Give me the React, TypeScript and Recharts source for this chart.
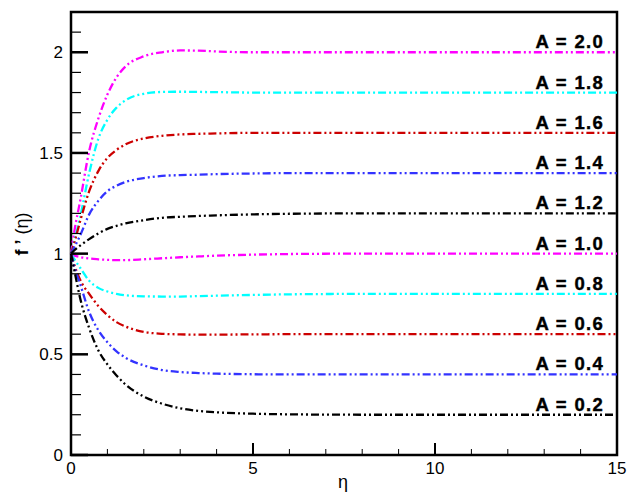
import React from 'react';
import { LineChart, Line, XAxis, YAxis, ReferenceArea, LabelList } from 'recharts';

const eta = [0, 0.1, 0.25, 0.5, 0.75, 1, 1.25, 1.5, 2, 2.5, 3, 3.5, 4, 5, 6, 8, 10, 12, 15];

const A20 = [1, 1.12, 1.26, 1.51, 1.67, 1.79, 1.875, 1.93, 1.98, 2.0, 2.009, 2.008, 2.004, 2.0, 2.0, 2.0, 2.0, 2.0, 2.0];
const A18 = [1, 1.07, 1.18, 1.4, 1.57, 1.665, 1.725, 1.762, 1.794, 1.803, 1.804, 1.803, 1.802, 1.8, 1.8, 1.8, 1.8, 1.8, 1.8];
const A16 = [1, 1.06, 1.16, 1.31, 1.41, 1.475, 1.515, 1.543, 1.572, 1.585, 1.592, 1.595, 1.597, 1.6, 1.6, 1.6, 1.6, 1.6, 1.6];
const A14 = [1, 1.035, 1.09, 1.195, 1.262, 1.31, 1.337, 1.356, 1.375, 1.386, 1.39, 1.392, 1.395, 1.398, 1.4, 1.4, 1.4, 1.4, 1.4];
const A12 = [1, 1.018, 1.04, 1.072, 1.1, 1.123, 1.138, 1.15, 1.166, 1.178, 1.183, 1.187, 1.19, 1.195, 1.198, 1.2, 1.2, 1.2, 1.2];
const A10 = [1, 0.99, 0.983, 0.976, 0.972, 0.969, 0.968, 0.968, 0.972, 0.977, 0.982, 0.986, 0.99, 0.995, 0.998, 1.0, 1.0, 1.0, 1.0];
const A08 = [1, 0.97, 0.93, 0.865, 0.83, 0.812, 0.8, 0.793, 0.788, 0.787, 0.787, 0.789, 0.791, 0.795, 0.798, 0.8, 0.8, 0.8, 0.8];
const A06 = [1, 0.94, 0.87, 0.8, 0.74, 0.695, 0.66, 0.638, 0.611, 0.602, 0.599, 0.598, 0.598, 0.599, 0.6, 0.6, 0.6, 0.6, 0.6];
const A04 = [1, 0.93, 0.85, 0.71, 0.62, 0.56, 0.515, 0.483, 0.445, 0.422, 0.412, 0.407, 0.404, 0.401, 0.4, 0.4, 0.4, 0.4, 0.4];
const A02 = [1, 0.91, 0.78, 0.63, 0.52, 0.45, 0.395, 0.35, 0.29, 0.255, 0.232, 0.219, 0.212, 0.205, 0.202, 0.2, 0.2, 0.2, 0.2];

const seriesNames = ['A = 2.0', 'A = 1.8', 'A = 1.6', 'A = 1.4', 'A = 1.2', 'A = 1.0', 'A = 0.8', 'A = 0.6', 'A = 0.4', 'A = 0.2'];
const seriesValues = [A20, A18, A16, A14, A12, A10, A08, A06, A04, A02];
const seriesColors = ['#ff00ff', '#00ffff', '#cc0000', '#3333ff', '#000000', '#ff00ff', '#00ffff', '#cc0000', '#3333ff', '#000000'];

const xTicks = [0, 1, 2, 3, 4, 5, 6, 7, 8, 9, 10, 11, 12, 13, 14, 15];
const xMajor = [0, 5, 10, 15];
const yTicks = [0, 0.1, 0.2, 0.3, 0.4, 0.5, 0.6, 0.7, 0.8, 0.9, 1, 1.1, 1.2, 1.3, 1.4, 1.5, 1.6, 1.7, 1.8, 1.9, 2, 2.1, 2.2];
const yMajor = [0, 0.5, 1, 1.5, 2];

const data = eta.map((e, i) => {
  const row: any = { eta: e };
  seriesValues.forEach((s, k) => {
    row['s' + k] = s[i];
  });
  return row;
});

const FONT = '"Liberation Sans", Arial, Helvetica, sans-serif';

const XTick = (props: any) => {
  const { x, y, payload } = props;
  const v = payload.value;
  const major = xMajor.includes(v);
  const axisY = y - 7;
  return (
    <g>
      <line x1={x} x2={x} y1={axisY} y2={axisY - (major ? 12 : 6)} stroke="#000" strokeWidth={major ? 2 : 1} />
      {major && (
        <text x={x} y={axisY + 19} textAnchor="middle" fontSize={17} fontFamily={FONT} fill="#000">
          {v}
        </text>
      )}
    </g>
  );
};

const YTick = (props: any) => {
  const { x, y, payload } = props;
  const v = payload.value;
  const major = yMajor.some((m) => Math.abs(m - v) < 1e-6);
  const axisX = x + 8;
  return (
    <g>
      <line x1={axisX} x2={axisX + (major ? 17 : 10)} y1={y} y2={y} stroke="#000" strokeWidth={major ? 2.5 : 1.2} />
      {major && (
        <text x={x} y={y + 6} textAnchor="end" fontSize={17} fontFamily={FONT} fill="#000">
          {v}
        </text>
      )}
    </g>
  );
};

const makeLabel = (name: string) => (props: any) => {
  const { x, y, index } = props;
  if (index !== eta.length - 1) return null;
  return (
    <text
      x={x - 13}
      y={y - 4}
      textAnchor="end"
      fontSize={18.5}
      fontWeight="bold"
      letterSpacing={1.3}
      fontFamily={FONT}
      fill="#000"
      stroke="#000"
      strokeWidth={0.4}
    >
      {name}
    </text>
  );
};

export default function App() {
  return (
    <div style={{ position: 'absolute', left: 0, top: 0 }}>
      <LineChart width={628} height={494} data={data} margin={{ top: 12, right: 11, left: 0, bottom: 0 }}>
        <XAxis
          dataKey="eta"
          type="number"
          domain={[0, 15]}
          ticks={xTicks}
          interval={0}
          tickSize={0}
          tickMargin={7}
          axisLine={false}
          tickLine={false}
          height={39}
          tick={<XTick />}
        />
        <YAxis
          type="number"
          domain={[0, 2.2]}
          ticks={yTicks}
          interval={0}
          tickSize={0}
          tickMargin={8}
          axisLine={false}
          tickLine={false}
          width={71}
          tick={<YTick />}
        />
        {seriesNames.map((name, k) => (
          <Line
            key={name}
            dataKey={'s' + k}
            type="monotone"
            stroke={seriesColors[k]}
            strokeWidth={2.3}
            strokeDasharray="8 3 2 3 2 3"
            dot={false}
            isAnimationActive={false}
          >
            <LabelList dataKey={'s' + k} content={makeLabel(name)} />
          </Line>
        ))}
        <ReferenceArea x1={0} x2={15} y1={0} y2={2.2} fill="none" stroke="#000" strokeWidth={2.5} ifOverflow="visible" />
        <text x={343} y={488} textAnchor="middle" fontSize={18} fontFamily={FONT} fill="#000">
          η
        </text>
        <text transform="translate(28,234) rotate(-90)" textAnchor="middle" fontSize={18} fontFamily={FONT} fill="#000">
          <tspan fontWeight="bold">f ’</tspan>
          <tspan> (η)</tspan>
        </text>
      </LineChart>
    </div>
  );
}
